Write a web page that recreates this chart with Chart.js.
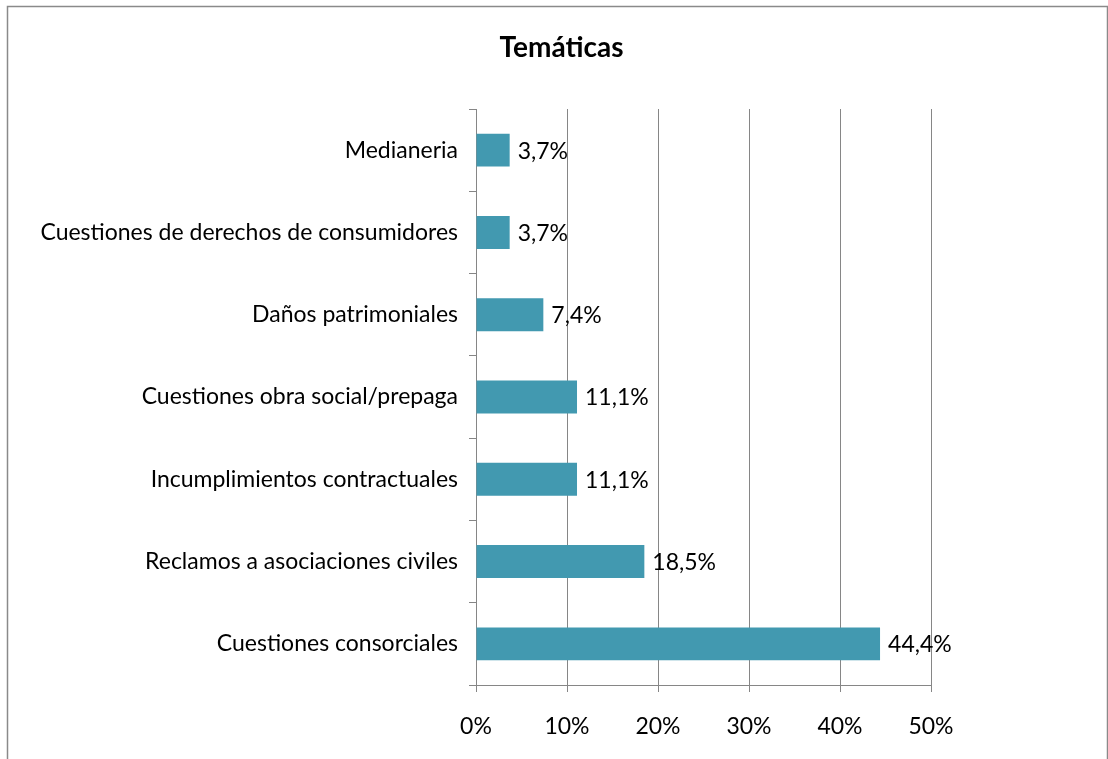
<!DOCTYPE html>
<html>
<head>
<meta charset="utf-8">
<title>Temáticas</title>
<script src="https://cdn.jsdelivr.net/npm/chart.js@4/dist/chart.umd.min.js"></script>
<style>
  html, body { margin: 0; padding: 0; background: #fff; }
  #wrap { width: 1108px; height: 759px; position: relative; }
</style>
</head>
<body>
<div id="wrap"><canvas id="chart" width="1108" height="759"></canvas></div>
<script>
// Data
const chartTitle = 'Temáticas';
const categories = [
  'Medianeria',
  'Cuestiones de derechos de consumidores',
  'Daños patrimoniales',
  'Cuestiones obra social/prepaga',
  'Incumplimientos contractuales',
  'Reclamos a asociaciones civiles',
  'Cuestiones consorciales'
];
const percentages = [3.7, 3.7, 7.4, 11.1, 11.1, 18.5, 44.4];
const tickValues = [0, 10, 20, 30, 40, 50];

const FONT = 'Lato, "Liberation Sans", sans-serif';
const GRID = '#868686';

// thin grey frame round the whole chart, plus the title centred in the frame
const framePlugin = {
  id: 'frame',
  beforeDraw(chart) {
    const ctx = chart.ctx;
    ctx.save();
    ctx.fillStyle = '#fff';
    ctx.fillRect(0, 0, chart.width, chart.height);
    ctx.strokeStyle = '#8a8a8a';
    ctx.lineWidth = 1.5;
    ctx.strokeRect(7.5, 6.5, chart.width - 8, chart.height + 10);

    ctx.font = 'bold 28px ' + FONT;
    ctx.fillStyle = '#000';
    ctx.textAlign = 'center';
    ctx.textBaseline = 'middle';
    ctx.fillText(chartTitle, (7 + chart.width) / 2 + 4, 48);
    ctx.restore();
  }
};

// value labels at the end of each bar, comma as decimal mark
const valueLabels = {
  id: 'valueLabels',
  afterDatasetsDraw(chart) {
    const ctx = chart.ctx;
    ctx.save();
    ctx.font = '23px ' + FONT;
    ctx.fillStyle = '#000';
    ctx.textBaseline = 'middle';
    chart.getDatasetMeta(0).data.forEach((bar, i) => {
      const txt = percentages[i].toFixed(1).replace('.', ',') + '%';
      ctx.fillText(txt, bar.x + 8, bar.y + 1);
    });
    ctx.restore();
  }
};

new Chart(document.getElementById('chart'), {
  type: 'bar',
  data: {
    labels: categories,
    datasets: [{
      data: percentages,
      backgroundColor: '#4299b0',
      borderWidth: 0,
      categoryPercentage: 1,
      barPercentage: 0.4
    }]
  },
  options: {
    indexAxis: 'y',
    responsive: false,
    animation: false,
    layout: { padding: { left: 0, right: 177, top: 109, bottom: 0 } },
    plugins: {
      legend: { display: false },
      tooltip: { enabled: false },
      title: { display: false }
    },
    scales: {
      x: {
        min: 0,
        max: 50,
        afterBuildTicks(scale) {
          scale.ticks = tickValues.map(v => ({ value: v }));
        },
        afterFit(scale) { scale.height = 74; },
        grid: { color: GRID, lineWidth: 1, tickLength: 7, drawTicks: true },
        border: { color: GRID, width: 1 },
        ticks: {
          color: '#000',
          padding: 21,
          font: { family: FONT, size: 23 },
          callback: v => v + '%'
        }
      },
      y: {
        afterFit(scale) { scale.width = 476; },
        grid: { color: GRID, drawOnChartArea: false, tickLength: 7, offset: true },
        border: { color: GRID, width: 1 },
        ticks: {
          color: '#000',
          padding: 11,
          font: { family: FONT, size: 23 }
        }
      }
    }
  },
  plugins: [framePlugin, valueLabels]
});
</script>
</body>
</html>
